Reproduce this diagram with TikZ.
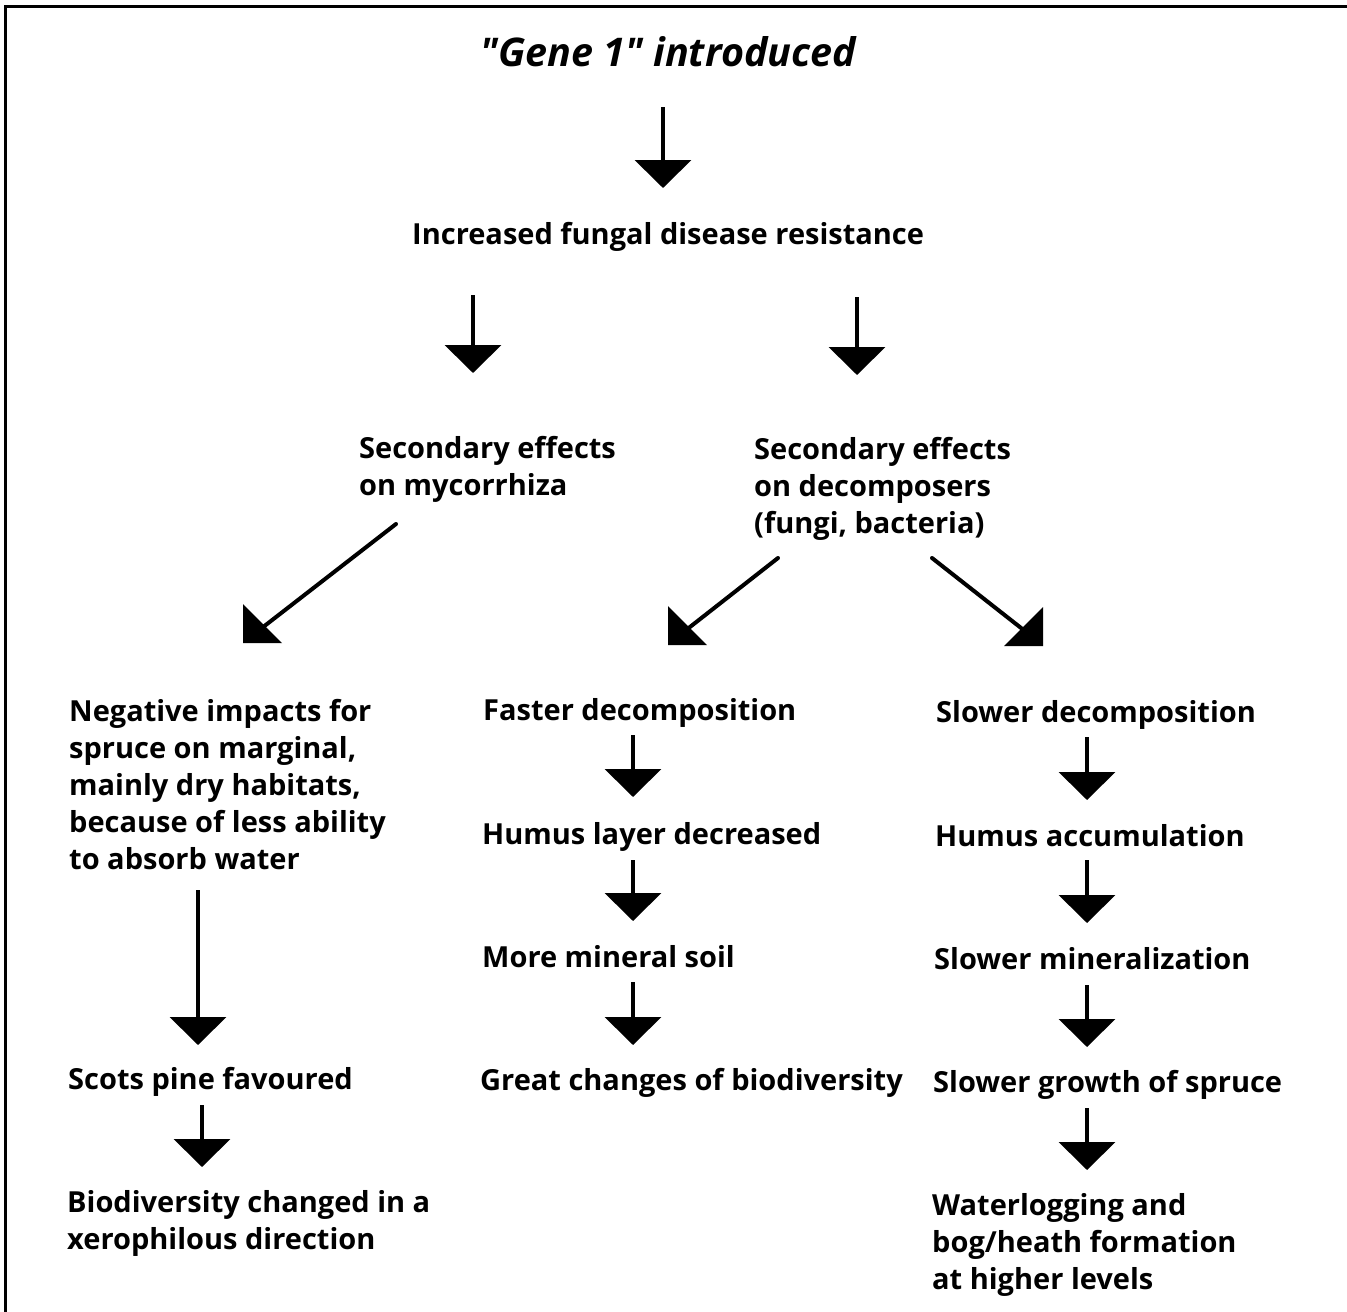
\documentclass[tikz,border=0pt]{standalone}
\usepackage{fontspec}
\setmainfont{Open Sans}
\newfontfamily\titlefont{Open Sans}[Ligatures=TeXOff]
\usetikzlibrary{arrows.meta}
\newcommand{\mlines}[1]{\vtop{\baselineskip=37pt\lineskiplimit=-100pt\lineskip=0pt #1}}
\tikzset{
  txt/.style={anchor=base west, inner sep=0pt, font=\fontsize{29}{37}\selectfont\bfseries},
  ttl/.style={anchor=base west, inner sep=0pt, font=\titlefont\fontsize{39.5}{44}\selectfont\bfseries\itshape},
  darr/.style={line width=4pt, -{Triangle[width=56pt,length=28pt]}},
  diag/.style={line width=4pt, line cap=round},
  head/.style={fill=black},
  frame/.style={line width=3pt}
}
\begin{document}
\begin{tikzpicture}[x=1pt,y=-1pt]
\useasboundingbox (0,0) rectangle (1347,1312);
\draw[frame] (5,1312) -- (5,6) -- (1347,6);

% texts
\node[ttl] (title) at (480,66) {"Gene 1" introduced};
\node[txt] (res) at (412,244) {Increased fungal disease resistance};
\node[txt] (myc) at (359,458) {\mlines{\hbox{Secondary effects}\hbox{on mycorrhiza}}};
\node[txt] (dec) at (754,459) {\mlines{\hbox{Secondary effects}\hbox{on decomposers}\hbox{(fungi, bacteria)}}};
\node[txt] (neg) at (69,721) {\mlines{\hbox{Negative impacts for}\hbox{spruce on marginal,}\hbox{mainly dry habitats,}\hbox{because of less ability}\hbox{to absorb water}}};
\node[txt] (scots) at (68,1089) {Scots pine favoured};
\node[txt] (bio) at (67,1212) {\mlines{\hbox{Biodiversity changed in a}\hbox{xerophilous direction}}};
\node[txt] (fast) at (483,720) {Faster decomposition};
\node[txt] (hdec) at (482,844) {Humus layer decreased};
\node[txt] (mineral) at (482,967) {More mineral soil};
\node[txt] (great) at (480,1090) {Great changes of biodiversity};
\node[txt] (slow) at (936,722) {Slower decomposition};
\node[txt] (hacc) at (935,846) {Humus accumulation};
\node[txt] (smin) at (934,969) {Slower mineralization};
\node[txt] (sgro) at (933,1092) {Slower growth of spruce};
\node[txt] (water) at (932,1215) {\mlines{\hbox{Waterlogging and}\hbox{bog/heath formation}\hbox{at higher levels}}};

% arrow end points
\coordinate (a1s) at (663,107);  \coordinate (a1e) at (663,188);
\coordinate (a2s) at (473,295);  \coordinate (a2e) at (473,373);
\coordinate (a3s) at (857,297);  \coordinate (a3e) at (857,375);
\coordinate (m1s) at (633,735);  \coordinate (m1e) at (633,797);
\coordinate (m2s) at (633,860);  \coordinate (m2e) at (633,921);
\coordinate (m3s) at (633,982);  \coordinate (m3e) at (633,1045);
\coordinate (r1s) at (1087,737); \coordinate (r1e) at (1087,800);
\coordinate (r2s) at (1087,860); \coordinate (r2e) at (1087,923);
\coordinate (r3s) at (1087,985); \coordinate (r3e) at (1087,1047);
\coordinate (r4s) at (1087,1108);\coordinate (r4e) at (1087,1170);
\coordinate (l1s) at (198,890);  \coordinate (l1e) at (198,1045);
\coordinate (l2s) at (202,1105); \coordinate (l2e) at (202,1167);

\foreach \a in {a1,a2,a3,m1,m2,m3,r1,r2,r3,r4,l1,l2}
  \draw[darr] (\a s) -- (\a e);

% diagonal arrows
\coordinate (d1s) at (396,524);  \coordinate (d1e) at (258,631); \coordinate (d1t) at (243,643);
\coordinate (d2s) at (778,558);  \coordinate (d2e) at (681,634); \coordinate (d2t) at (668,645);
\coordinate (d3s) at (932,558);  \coordinate (d3e) at (1030,635); \coordinate (d3t) at (1043,646);
\draw[diag] (d1s) -- (d1e);
\draw[diag] (d2s) -- (d2e);
\draw[diag] (d3s) -- (d3e);
\fill[head] (d1t) -- ++(0,-39) -- ++(39,39) -- cycle;
\fill[head] (d2t) -- ++(0,-39) -- ++(39,39) -- cycle;
\fill[head] (d3t) -- ++(0,-39) -- ++(-39,39) -- cycle;
\end{tikzpicture}
\end{document}
